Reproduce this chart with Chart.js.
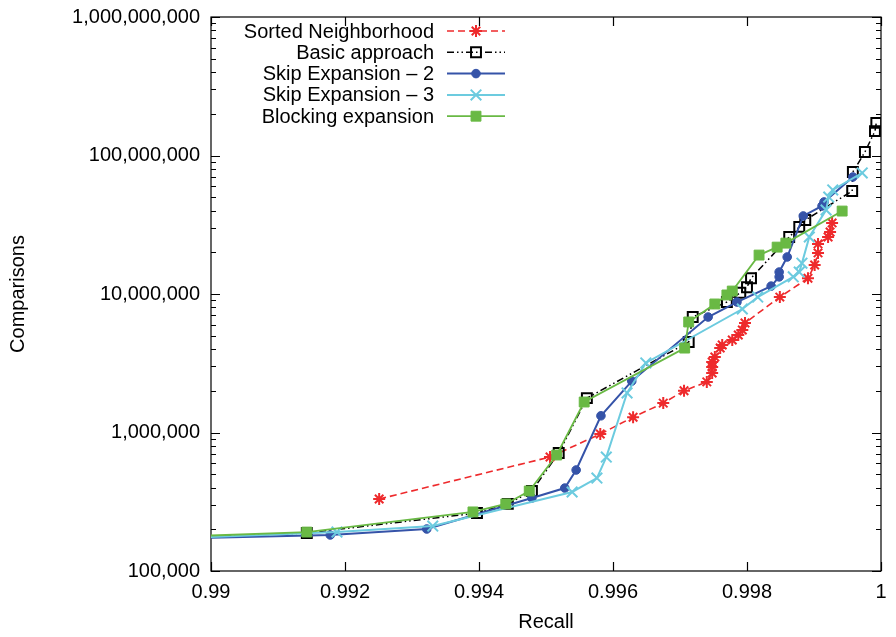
<!DOCTYPE html>
<html lang="en">
<head>
	<meta charset="UTF-8">
	<title>recall vs comparisons</title>
	<script src="https://cdn.jsdelivr.net/npm/chart.js@4.4.0/dist/chart.umd.min.js"></script>
	<style>
		html, body { margin: 0; padding: 0; background: #fff; }
		#wrap { width: 896px; height: 637px; }
	</style>
</head>
<body>
<div id="wrap"><canvas id="myChart" width="896" height="637"></canvas></div>
<script>
	// values (first point of four series lies left of 0.99, clipped)
	const sortedRecall = [0.99251, 0.99506, 0.99581, 0.99630, 0.99675, 0.99706, 0.99740, 0.99748, 0.99748, 0.99748, 0.99752, 0.99760, 0.99763, 0.99778, 0.99787, 0.99793, 0.99797, 0.99849, 0.99891, 0.99901, 0.99906, 0.99906, 0.99921, 0.99924, 0.99927];
	const sortedComparisons = [331000, 665000, 975000, 1290000, 1630000, 2000000, 2320000, 2690000, 2970000, 3230000, 3510000, 4070000, 4280000, 4660000, 5060000, 5500000, 6180000, 9500000, 13000000, 16200000, 19800000, 23000000, 25800000, 28000000, 32600000];

	const basicRecall = [0.9885, 0.99143, 0.99397, 0.99443, 0.99479, 0.99519, 0.99561, 0.99713, 0.99719, 0.99770, 0.99790, 0.99800, 0.99806, 0.99863, 0.99878, 0.99887, 0.99957, 0.99958, 0.99976, 0.99991, 0.99993];
	const basicComparisons = [167000, 188000, 262000, 305000, 378000, 711000, 1770000, 4500000, 6820000, 8750000, 10200000, 11200000, 13000000, 25800000, 30500000, 34200000, 55400000, 76000000, 106000000, 150000000, 172000000];

	const skip2Recall = [0.9885, 0.99178, 0.99322, 0.99479, 0.99528, 0.99545, 0.99582, 0.99628, 0.99742, 0.99785, 0.99836, 0.99848, 0.99848, 0.99860, 0.99884, 0.99912, 0.99915, 0.99958];
	const skip2Comparisons = [167000, 182000, 201000, 337000, 397000, 536000, 1320000, 2350000, 6820000, 8750000, 11400000, 13300000, 14400000, 18500000, 36600000, 43200000, 46200000, 70000000];

	const skip3Recall = [0.9885, 0.99188, 0.99331, 0.99539, 0.99576, 0.99590, 0.99621, 0.99649, 0.99793, 0.99816, 0.99869, 0.99878, 0.99882, 0.99893, 0.99918, 0.99922, 0.99928, 0.99972];
	const skip3Comparisons = [165000, 191000, 211000, 372000, 469000, 665000, 1930000, 3180000, 7790000, 9500000, 13300000, 14400000, 16700000, 25800000, 40400000, 50100000, 56400000, 74800000];

	const blockRecall = [0.9885, 0.99143, 0.99391, 0.99440, 0.99475, 0.99516, 0.99557, 0.99707, 0.99713, 0.99752, 0.99770, 0.99778, 0.99818, 0.99845, 0.99858, 0.99942];
	const blockComparisons = [170000, 191000, 267000, 305000, 378000, 688000, 1660000, 4070000, 6280000, 8470000, 9840000, 10500000, 19100000, 21800000, 23300000, 39700000];

	const xTicks = [0.99, 0.992, 0.994, 0.996, 0.998, 1];
	const xTickLabels = ['0.99', '0.992', '0.994', '0.996', '0.998', '1'];
	const yTicks = [1e5, 1e6, 1e7, 1e8, 1e9];
	const yTickLabels = ['100,000', '1,000,000', '10,000,000', '100,000,000', '1,000,000,000'];

	const FONT = "'Liberation Sans', Arial, sans-serif";
	const FSIZE = 20;

	function pts(xs, ys) {
		return xs.map((x, i) => ({ x: x, y: ys[i] }));
	}

	// gnuplot style box with inward ticks
	const framePlugin = {
		id: 'frame',
		beforeDatasetsDraw(chart) {
			const { ctx, chartArea: a, scales } = chart;
			const x = scales.x, y = scales.y;
			ctx.save();
			ctx.strokeStyle = '#000';
			ctx.lineWidth = 1.2;
			ctx.setLineDash([]);
			ctx.strokeRect(a.left, a.top, a.right - a.left, a.bottom - a.top);
			ctx.beginPath();
			xTicks.forEach(v => {
				const px = Math.round(x.getPixelForValue(v)) + 0.5;
				ctx.moveTo(px, a.bottom); ctx.lineTo(px, a.bottom - 9);
				ctx.moveTo(px, a.top); ctx.lineTo(px, a.top + 9);
			});
			for (let e = 5; e <= 9; e++) {
				for (let m = 1; m <= 9; m++) {
					const v = m * Math.pow(10, e);
					if (v > 1e9) break;
					const py = Math.round(y.getPixelForValue(v)) + 0.5;
					const len = m === 1 ? 9 : 5;
					ctx.moveTo(a.left, py); ctx.lineTo(a.left + len, py);
					ctx.moveTo(a.right, py); ctx.lineTo(a.right - len, py);
				}
			}
			ctx.stroke();
			ctx.restore();
		},
		afterDraw(chart) {
			// key: text right aligned, sample line to the right
			const ctx = chart.ctx;
			ctx.save();
			ctx.font = FSIZE + 'px ' + FONT;
			ctx.textAlign = 'right';
			ctx.textBaseline = 'middle';
			chart.data.datasets.forEach((ds, i) => {
				const yy = 31 + i * 21.3;
				ctx.fillStyle = '#000';
				ctx.fillText(ds.label, 434, yy + 1);
				ctx.strokeStyle = ds.borderColor;
				ctx.lineWidth = ds.borderWidth;
				ctx.setLineDash(ds.borderDash || []);
				ctx.beginPath();
				ctx.moveTo(447, yy); ctx.lineTo(505, yy);
				ctx.stroke();
				ctx.setLineDash([]);
				ctx.strokeStyle = ds.pointBorderColor;
				ctx.fillStyle = ds.pointBackgroundColor;
				ctx.lineWidth = ds.pointBorderWidth;
				Chart.helpers.drawPoint(ctx, {
					pointStyle: ds.pointStyle, rotation: 0,
					radius: ds.pointRadius, borderWidth: ds.pointBorderWidth
				}, 476, yy);
			});
			ctx.restore();
		}
	};

	const red = '#ee2a2c', blue = '#3553a8', cyan = '#6ccbdf', green = '#69b944';

	const ctx = document.getElementById('myChart').getContext('2d');
	const myChart = new Chart(ctx, {
		type: 'line',
		data: {
			datasets: [
				{
					label: 'Sorted Neighborhood',
					data: pts(sortedRecall, sortedComparisons),
					borderColor: red, borderWidth: 1.6, borderDash: [7, 4],
					pointStyle: 'star', pointRadius: 6, pointBorderWidth: 2,
					pointBorderColor: red, pointBackgroundColor: red, order: 5
				},
				{
					label: 'Basic approach',
					data: pts(basicRecall, basicComparisons),
					borderColor: '#000', borderWidth: 1.5, borderDash: [7, 3, 1.5, 3, 1.5, 3],
					pointStyle: 'rect', pointRadius: 7, pointBorderWidth: 2,
					pointBorderColor: '#000', pointBackgroundColor: 'rgba(0,0,0,0)', order: 4
				},
				{
					label: 'Skip Expansion \u2013 2',
					data: pts(skip2Recall, skip2Comparisons),
					borderColor: blue, borderWidth: 2,
					pointStyle: 'circle', pointRadius: 4.3, pointBorderWidth: 1,
					pointBorderColor: blue, pointBackgroundColor: blue, order: 3
				},
				{
					label: 'Skip Expansion \u2013 3',
					data: pts(skip3Recall, skip3Comparisons),
					borderColor: cyan, borderWidth: 2,
					pointStyle: 'crossRot', pointRadius: 7.5, pointBorderWidth: 2,
					pointBorderColor: cyan, pointBackgroundColor: cyan, order: 2
				},
				{
					label: 'Blocking expansion',
					data: pts(blockRecall, blockComparisons),
					borderColor: green, borderWidth: 1.8,
					pointStyle: 'rect', pointRadius: 7, pointBorderWidth: 1,
					pointBorderColor: green, pointBackgroundColor: green, order: 1
				}
			]
		},
		options: {
			responsive: false,
			animation: false,
			layout: { padding: { top: 17, right: 15, left: 0, bottom: 0 } },
			plugins: { legend: { display: false }, tooltip: { enabled: false } },
			elements: { line: { tension: 0, fill: false } },
			scales: {
				x: {
					type: 'linear', min: 0.99, max: 1,
					grid: { display: false, drawTicks: false },
					border: { display: false },
					afterBuildTicks: s => { s.ticks = xTicks.map(v => ({ value: v })); },
					afterFit: s => { s.height = 66; s.paddingLeft = 0; s.paddingRight = 0; },
					ticks: {
						autoSkip: false, maxRotation: 0, padding: 9, color: '#000',
						font: { family: FONT, size: FSIZE },
						callback: (v, i) => xTickLabels[i]
					},
					title: {
						display: true, text: 'Recall', color: '#000',
						font: { family: FONT, size: FSIZE },
						padding: { top: 0, bottom: 3 }
					}
				},
				y: {
					type: 'logarithmic', min: 1e5, max: 1e9,
					grid: { display: false, drawTicks: false },
					border: { display: false },
					afterBuildTicks: s => { s.ticks = yTicks.map(v => ({ value: v, major: true })); },
					afterFit: s => { s.width = 211; s.paddingTop = 0; s.paddingBottom = 0; },
					ticks: {
						autoSkip: false, padding: 11, color: '#000',
						font: { family: FONT, size: FSIZE },
						callback: (v, i) => yTickLabels[i]
					},
					title: {
						display: true, text: 'Comparisons', color: '#000',
						font: { family: FONT, size: FSIZE },
						padding: { top: 6, bottom: 0 }
					}
				}
			}
		},
		plugins: [framePlugin]
	});
</script>
</body>
</html>
